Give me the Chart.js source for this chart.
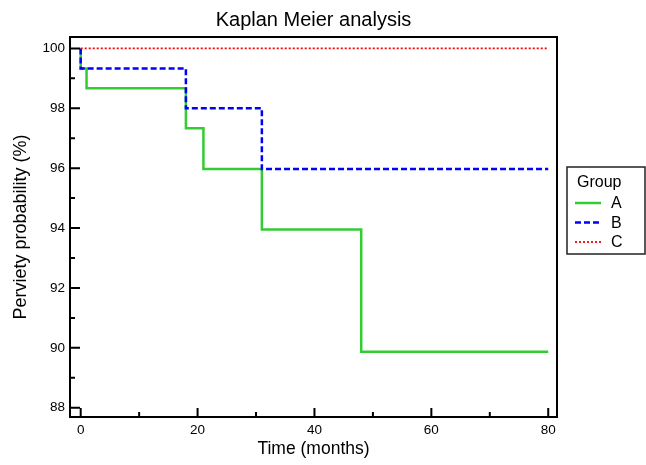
<!DOCTYPE html>
<html><head><meta charset="utf-8">
<script src="https://cdn.jsdelivr.net/npm/chart.js@4.4.0/dist/chart.umd.min.js"></script>
<style>html,body{margin:0;padding:0;background:#fff}#wrap{width:646px;height:465px}</style>
</head><body><div id="wrap"><canvas id="c" width="646" height="465"></canvas></div>
<script>
const chartTitle = 'Kaplan Meier analysis';
const xTitle = 'Time (months)';
const yTitle = 'Perviety probability (%)';
const legendTitle = 'Group';
const groupNames = ['A', 'B', 'C'];

const timesA = [0, 0, 1, 18, 21, 31, 48, 80];
const survA  = [100, 99.33, 98.67, 97.33, 95.97, 93.95, 89.87, 89.87];
const timesB = [0, 0, 18, 31, 80];
const survB  = [100, 99.33, 98.0, 95.97, 95.97];
const timesC = [0, 80];
const survC  = [100, 100];

const xTicks = [0, 20, 40, 60, 80];
const xMinorTicks = [10, 30, 50, 70];
const yTicks = [88, 90, 92, 94, 96, 98, 100];
const yMinorTicks = [89, 91, 93, 95, 97, 99];

const FONT = "'Liberation Sans', Arial, Helvetica, sans-serif";
const toPts = (t, s) => t.map((v, i) => ({x: v, y: s[i]}));

const framePlugin = {
  id: 'frame',
  beforeDraw(chart) {
    const {ctx} = chart;
    ctx.save(); ctx.fillStyle = '#fff'; ctx.fillRect(0, 0, chart.width, chart.height); ctx.restore();
  },
  afterDatasetsDraw(chart) {
    const {ctx, chartArea: a, scales: {x, y}} = chart;
    ctx.save();
    ctx.strokeStyle = '#000'; ctx.lineWidth = 2; ctx.setLineDash([]);
    ctx.strokeRect(a.left, a.top, a.right - a.left, a.bottom - a.top);
    ctx.beginPath();
    xTicks.forEach(v => { const p = x.getPixelForValue(v); ctx.moveTo(p, a.bottom); ctx.lineTo(p, a.bottom - 9); });
    xMinorTicks.forEach(v => { const p = x.getPixelForValue(v); ctx.moveTo(p, a.bottom); ctx.lineTo(p, a.bottom - 5); });
    yTicks.forEach(v => { const p = y.getPixelForValue(v); ctx.moveTo(a.left, p); ctx.lineTo(a.left + 10, p); });
    yMinorTicks.forEach(v => { const p = y.getPixelForValue(v); ctx.moveTo(a.left, p); ctx.lineTo(a.left + 5, p); });
    ctx.stroke();

    // legend
    const lx = a.right + 10, ly = a.top + 130, lw = 78, lh = 87;
    ctx.lineWidth = 1.5; ctx.strokeStyle = '#222';
    ctx.strokeRect(lx, ly, lw, lh);
    ctx.fillStyle = '#000';
    ctx.font = '16px ' + FONT;
    ctx.textBaseline = 'middle'; ctx.textAlign = 'left';
    ctx.fillText(legendTitle, lx + 10, ly + 16);
    chart.data.datasets.forEach((ds, i) => {
      const yy = ly + 36 + i * 19.5;
      ctx.beginPath();
      ctx.strokeStyle = ds.borderColor; ctx.lineWidth = ds.borderWidth;
      ctx.setLineDash(ds.borderDash || []);
      ctx.moveTo(lx + 8, yy); ctx.lineTo(lx + 34, yy); ctx.stroke();
      ctx.setLineDash([]);
      ctx.fillStyle = '#000';
      ctx.fillText(ds.label, lx + 44, yy + 1);
    });
    ctx.restore();
  }
};

new Chart(document.getElementById('c'), {
  type: 'scatter',
  data: {
    datasets: [
      {label: groupNames[0], data: toPts(timesA, survA), showLine: true, stepped: 'before',
       borderColor: '#33cc33', borderWidth: 2.5, pointRadius: 0, order: 3},
      {label: groupNames[1], data: toPts(timesB, survB), showLine: true, stepped: 'before',
       borderColor: '#0000ff', borderWidth: 2.5, borderDash: [6, 3], pointRadius: 0, order: 2},
      {label: groupNames[2], data: toPts(timesC, survC), showLine: true, stepped: 'before',
       borderColor: '#ff0000', borderWidth: 1.8, borderDash: [2, 2], pointRadius: 0, order: 1}
    ]
  },
  options: {
    responsive: false, animation: false, devicePixelRatio: 1,
    layout: {padding: {left: 0, right: 89, top: 0, bottom: 0}},
    plugins: {
      legend: {display: false}, tooltip: {enabled: false},
      title: {display: true, text: chartTitle, fullSize: false, color: '#000',
              font: {family: FONT, size: 20, weight: 'normal'}, padding: {top: 8, bottom: 5}}
    },
    scales: {
      x: {type: 'linear', min: -1.83, max: 81.5,
          afterBuildTicks: s => { s.ticks = xTicks.map(v => ({value: v})); },
          afterFit: s => { s.height = 48; },
          grid: {display: false, drawTicks: false}, border: {display: false},
          ticks: {color: '#000', font: {family: FONT, size: 13.5}, padding: 5, maxRotation: 0, autoSkip: false},
          title: {display: true, text: xTitle, color: '#000', font: {family: FONT, size: 17.5}, padding: {top: 0, bottom: 5}}},
      y: {type: 'linear', min: 87.69, max: 100.38,
          afterBuildTicks: s => { s.ticks = yTicks.map(v => ({value: v})); },
          afterFit: s => { s.width = 70; },
          grid: {display: false, drawTicks: false}, border: {display: false},
          ticks: {color: '#000', font: {family: FONT, size: 13.5}, padding: 5, autoSkip: false},
          title: {display: true, text: yTitle, color: '#000', font: {family: FONT, size: 18}, padding: {top: 10, bottom: 0}}}
    }
  },
  plugins: [framePlugin]
});
</script></body></html>
